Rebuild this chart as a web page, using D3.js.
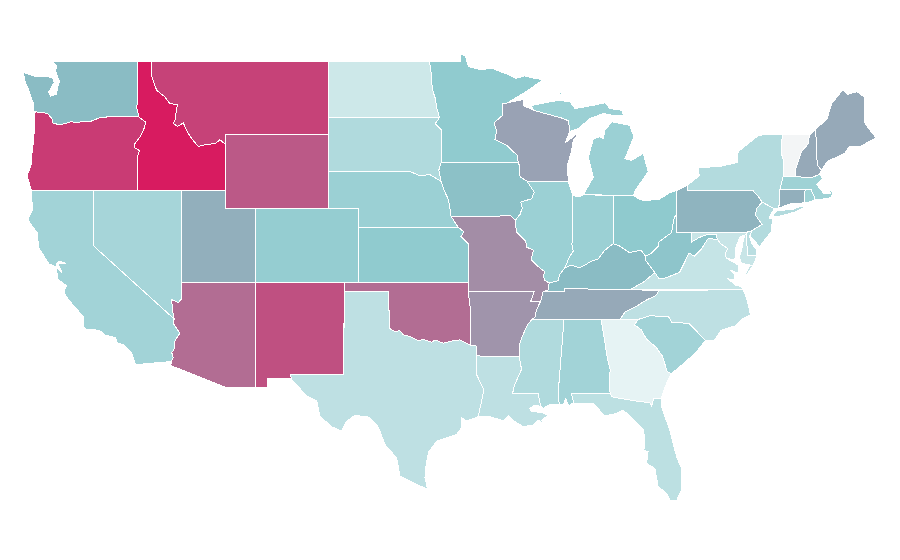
<!DOCTYPE html>
<html>
<head>
<meta charset="utf-8">
<script src="https://cdn.jsdelivr.net/npm/d3@7"></script>
<style>
  html, body { margin: 0; background: #fff; }
  .state { stroke: #fff; stroke-width: 1; shape-rendering: crispEdges; }
</style>
</head>
<body>
<svg id="mapa" width="900" height="560"></svg>
<script>
const states = ['ID','OR','MT','WY','NM','AZ','OK','MO','AR','WI','TN','ME','NH','UT','PA','CT','WA','IA','KY','WV','MN','KS','OH','CO','NE','IL','IN','MI','CA','NV','AL','SC','MA','RI','MS','SD','NY','NJ','TX','LA','FL','NC','VA','MD','DE','ND','GA','VT'];
const values = [100,91,89,82.5,85,77,77,68,66,62,60,60,60,57,54,57,50,47,50,44,40,40,41,38,35.5,35.5,35.5,35.5,32.7,31,32.7,32.7,34,34,27,27,25.8,25.8,21.3,21.3,22,21.3,18.4,17.2,23,15,5,0];

const color_stops = [0, 5, 40, 50, 60, 100];
const color_range = ['#f3f5f6', '#e6f3f4', '#90cbcf', '#8abcc4', '#96a9b8', '#d81b60'];

// shared borders, lon/lat
const columbia = [[-118.98,46],[-119.3,45.93],[-119.6,45.92],[-120.2,45.73],[-120.65,45.73],[-121.2,45.67],[-121.5,45.72],[-122,45.6],[-122.3,45.55],[-122.75,45.65],[-122.8,45.9],[-123.1,46.15],[-123.4,46.22],[-123.9,46.25]];
const snake = [[-116.92,46],[-116.88,45.94],[-116.45,45.7],[-116.57,45.34],[-116.84,44.89],[-117.18,44.53],[-117.2,44.31],[-116.88,44.16],[-117.02,43.8],[-117.03,42]];
const id_mt = [[-116.05,49],[-116.03,48.15],[-115.71,47.42],[-115.15,47.06],[-114.81,46.7],[-114.31,46.65],[-114.47,45.79],[-114.58,45.61],[-114.29,45.47],[-113.9,45.65],[-113.63,45.16],[-113.34,44.8],[-112.89,44.38],[-112.32,44.49],[-111.76,44.53],[-111.42,44.74],[-111.05,44.49]];
const colorado_nv = [[-114.04,36.1],[-114.24,35.92],[-114.69,36.07],[-114.65,35.6],[-114.53,35.03]];
const colorado_ca = [[-114.53,35.03],[-114.6,34.8],[-114.14,34.26],[-114.47,33.84],[-114.47,33.47],[-114.69,33.2],[-114.58,32.93],[-114.72,32.72]];
const red_river = [[-100,36.5],[-99.95,34.52],[-99.57,34.34],[-99.23,34.39],[-99,34.16],[-98.55,34.07],[-97.99,33.85],[-97.65,33.92],[-97.09,33.76],[-96.86,33.89],[-96.3,33.71],[-95.62,33.85],[-95.17,33.89],[-94.49,33.62]];
const red_river_dn = [[-94.49,33.62],[-94.04,33.55]];
const miss_il_mo = [[-89.13,36.98],[-89.4,37.1],[-89.52,37.3],[-89.45,37.6],[-90,37.95],[-90.35,38.25],[-90.2,38.75],[-90.65,38.92],[-90.72,39.25],[-91.35,39.75],[-91.42,40.38]];
const miss_il_ia = [[-91.42,40.38],[-91.1,40.7],[-90.95,41.05],[-91.06,41.36],[-90.32,41.54],[-90.14,41.9],[-90.64,42.5]];
const miss_wi = [[-90.64,42.5],[-91.1,42.72],[-91.15,43.35],[-91.22,43.5]];
const miss_wi_mn = [[-91.22,43.5],[-91.29,43.89],[-92.01,44.44],[-92.8,44.75],[-92.69,45.25],[-92.87,45.65],[-92.28,46.07],[-92.28,46.7]];
const miss_ky_mo = [[-89.13,36.98],[-89.2,36.6],[-89.55,36.5]];
const miss_tn_ar = [[-89.55,36.5],[-89.7,36],[-90,35.5],[-90.1,35.1],[-90.3,35]];
const miss_ms_ar = [[-90.3,35],[-90.6,34.7],[-91,34],[-91.15,33.6],[-91.17,33]];
const miss_ms_la = [[-91.17,33],[-91,32.3],[-91.5,31.4],[-91.6,31],[-89.87,30.98],[-89.72,30.36],[-89.54,30.18]];
const ohio_ky_il = [[-89.13,36.98],[-88.5,37.1],[-88.45,37.4],[-88.07,37.8]];
const ohio_ky_in = [[-88.07,37.8],[-87.6,37.95],[-87.1,37.8],[-86.6,38],[-86.3,38.15],[-85.8,38.28],[-85.4,38.73],[-84.8,39.1]];
const ohio_ky_oh = [[-84.8,39.1],[-84.4,39],[-83.7,38.63],[-82.9,38.75],[-82.6,38.42]];
const ohio_wv = [[-82.6,38.42],[-82.2,38.6],[-81.75,38.95],[-81.7,39.2],[-80.85,39.7],[-80.65,40.55],[-80.52,40.64]];
const wabash = [[-88.07,37.8],[-87.75,38.4],[-87.5,38.7],[-87.6,39.1],[-87.53,39.35],[-87.53,41.7]];
const wv_va = [[-77.72,39.32],[-78.35,39.4],[-78.87,38.77],[-79.3,38.42],[-79.65,38.6],[-80.3,37.55],[-81.25,37.25],[-81.68,37.2],[-81.97,37.54]];
const ky_wv = [[-81.97,37.54],[-82.6,38.2],[-82.6,38.42]];
const md_wv = [[-79.48,39.2],[-78.95,39.45],[-78.4,39.6],[-77.83,39.6],[-77.72,39.32]];
const potomac = [[-77.72,39.32],[-77.5,39.1],[-77.05,38.85],[-77.23,38.49],[-77.1,38.31]];
const tn_nc = [[-84.32,35],[-84,35.4],[-83.1,35.77],[-82.6,36.03],[-81.9,36.3],[-81.68,36.59]];
const ga_sc = [[-83.11,35],[-83.35,34.7],[-82.9,34.45],[-82.55,33.95],[-81.9,33.5],[-81.45,33],[-81.15,32.2],[-80.87,32.05]];
const nc_sc = [[-83.11,35],[-82.3,35.2],[-81.05,35.15],[-80.8,34.82],[-79.67,34.8],[-78.55,33.86]];
const ga_al = [[-85.61,35],[-85.18,32.87],[-85,32.3],[-85.05,31.5],[-85,31]];
const ga_fl = [[-85,31],[-84.86,30.8],[-83.2,30.57],[-82.31,30.49],[-82.2,30.3],[-82.04,30.72],[-81.52,30.73]];
const delaware = [[-74.7,41.36],[-75.1,41],[-75.15,40.65],[-74.72,40.15],[-75.42,39.8]];
const ny_pa = [[-79.76,42],[-75.35,42],[-75.05,41.75],[-74.7,41.36]];
const ny_ne = [[-73.35,45],[-73.4,44],[-73.25,43.55],[-73.28,42.75]];
const ny_ct = [[-73.5,42.05],[-73.5,41.3],[-73.65,41]];
const vt_nh = [[-71.5,45],[-71.6,44.5],[-72.05,44.1],[-72.45,43.1],[-72.46,42.73]];
const me_nh = [[-71.08,45.3],[-70.98,43.4],[-70.7,43.07]];
const up_wi = [[-87.72,45.2],[-87.83,45.76],[-88.17,45.89],[-90.2,46.34]];
const rev = a => a.slice().reverse();

const outlines = {
  WA: [[[-122.76,49],[-117.03,49],[-117.04,46.42],[-116.92,46],[-118.98,46],...columbia,[-124.05,46.28],[-124.05,46.7],[-124.18,46.95],[-124.4,47.5],[-124.65,47.95],[-124.73,48.38],[-123.9,48.17],[-123.15,48.15],[-122.75,48.12],[-122.65,47.85],[-122.95,47.4],[-123.05,47.35],[-122.9,47.1],[-122.5,47.2],[-122.4,47.6],[-122.3,47.9],[-122.45,48.25],[-122.55,48.45],[-122.5,48.75]]],
  OR: [[[-124.2,42],[-124.48,42.8],[-124.2,43.4],[-124.15,44],[-124.05,44.7],[-123.97,45.5],[-123.95,46.2],...rev(columbia),[-116.92,46],...snake]],
  ID: [[[-117.03,49],...id_mt,[-111.05,42],...rev(snake),[-117.04,46.42]]],
  MT: [[...id_mt.slice(0,1),[-104.05,49],[-104.05,45],[-111.05,45],...rev(id_mt).slice(0,-1)]],
  WY: [[[-111.05,45],[-104.05,45],[-104.05,41],[-111.05,41]]],
  UT: [[[-114.04,42],[-111.05,42],[-111.05,41],[-109.05,41],[-109.05,37],[-114.04,37]]],
  NV: [[[-120,42],[-114.04,42],[-114.04,37],...colorado_nv,[-120,39]]],
  CA: [[[-120,42],[-120,39],...colorado_ca,[-117.12,32.55],[-117.28,32.85],[-117.4,33.2],[-117.9,33.6],[-118.4,33.75],[-118.5,34.02],[-119.2,34.15],[-119.6,34.42],[-120.47,34.45],[-120.65,34.6],[-120.65,35.15],[-121.3,35.7],[-121.9,36.3],[-121.95,36.6],[-121.8,36.85],[-122.05,36.95],[-122.4,37.2],[-122.5,37.75],[-122.38,37.76],[-122.1,37.5],[-122.3,37.85],[-122.38,38.05],[-121.85,38.05],[-122.3,38.15],[-122.5,38],[-122.5,37.85],[-123,38],[-123.7,38.9],[-123.8,39.7],[-124.35,40.3],[-124.4,40.45],[-124.1,41],[-124.2,41.75],[-124.2,42]]],
  AZ: [[[-114.04,37],[-109.05,37],[-109.05,31.33],[-111.07,31.33],[-114.75,32.5],...rev(colorado_ca),...rev(colorado_nv)]],
  NM: [[[-109.05,37],[-103,37],[-103.05,32],[-106.62,32],[-106.6,31.78],[-108.2,31.78],[-108.2,31.33],[-109.05,31.33]]],
  CO: [[[-109.05,41],[-102.05,41],[-102.05,37],[-109.05,37]]],
  KS: [[[-102.05,40],[-95.3,40],[-94.9,39.75],[-95.1,39.5],[-94.61,39.11],[-94.62,37],[-102.05,37]]],
  NE: [[[-104.05,43],[-98.5,43],[-97.9,42.8],[-97.2,42.85],[-96.45,42.49],[-96.25,42],[-95.95,41.5],[-95.77,40.59],[-95.3,40],[-102.05,40],[-102.05,41],[-104.05,41]]],
  SD: [[[-104.05,45.94],[-96.56,45.94],[-96.85,45.6],[-96.45,45.3],[-96.45,43.5],[-96.6,43.1],[-96.45,42.49],[-97.2,42.85],[-97.9,42.8],[-98.5,43],[-104.05,43]]],
  ND: [[[-104.05,49],[-97.23,49],[-97.1,48.2],[-97.05,47.5],[-96.85,47],[-96.75,46.5],[-96.56,45.94],[-104.05,45.94]]],
  MN: [[[-97.23,49],[-95.15,49],[-95.15,49.38],[-94.8,49.3],[-94.6,48.7],[-93.8,48.55],[-92.95,48.6],[-92,48.3],[-91.4,48.07],[-90.8,48.2],[-90,48.05],[-89.5,48],[-90.8,47.3],[-92,46.72],...rev(miss_wi_mn),[-96.45,43.5],[-96.45,45.3],[-96.85,45.6],[-96.56,45.94],[-96.75,46.5],[-96.85,47],[-97.05,47.5],[-97.1,48.2]]],
  IA: [[[-96.45,43.5],[-91.22,43.5],...rev(miss_wi),...rev(miss_il_ia),[-91.73,40.61],[-95.77,40.59],[-95.95,41.5],[-96.25,42],[-96.45,42.49],[-96.6,43.1]]],
  MO: [[[-95.77,40.59],[-91.73,40.61],...rev(miss_il_mo),...miss_ky_mo,[-89.7,36],[-90.37,36],[-90.15,36.5],[-94.62,36.5],[-94.62,37],[-94.61,39.11],[-95.1,39.5],[-94.9,39.75],[-95.3,40]]],
  AR: [[[-94.62,36.5],[-90.15,36.5],[-90.37,36],...miss_tn_ar.slice(1),...miss_ms_ar,[-94.04,33.02],[-94.04,33.55],[-94.49,33.62],[-94.43,35.4]]],
  OK: [[[-103,37],[-94.62,37],[-94.62,36.5],[-94.43,35.4],...rev(red_river),[-103,36.5]]],
  TX: [[[-103,36.5],...red_river,...red_river_dn,[-94.04,32],[-93.55,31.2],[-93.75,30.4],[-93.94,29.73],[-94.72,29.49],[-95.06,29.67],[-95.06,29.13],[-95.39,28.77],[-96.07,28.59],[-96.75,28.4],[-97.3,27.8],[-97.45,27.2],[-97.54,26.41],[-97.36,25.8],[-98.33,26.14],[-99.23,26.5],[-99.46,27.5],[-100.25,28.22],[-100.7,29.17],[-101.37,29.71],[-102.28,29.8],[-102.84,29.49],[-103.18,28.95],[-103.86,29.18],[-104.65,29.76],[-104.87,30.58],[-105.55,30.85],[-106.6,31.78],[-106.62,32],[-103.05,32]]],
  LA: [[[-93.94,29.73],[-93.15,29.73],[-92.24,29.52],[-91.9,29.77],[-91.57,29.52],[-90.89,29.19],[-90.2,29.28],[-89.87,29.55],[-89.15,29.05],[-89.65,29.52],[-89.2,29.82],[-89.7,29.97],[-90.32,30],[-90.44,30.18],[-90.1,30.36],[-89.65,30.27],...rev(miss_ms_la),[-94.04,33.02],[-94.04,32],[-93.55,31.2],[-93.75,30.4]]],
  MS: [[...miss_ms_la,[-89.2,30.36],[-88.45,30.4],[-88.52,31],[-88.13,34.93],[-88.2,35],...miss_ms_ar]],
  AL: [[[-88.2,35],[-85.61,35],...ga_al.slice(1),[-87.62,30.97],[-87.46,30.45],[-87.62,30.42],[-87.82,30.31],[-88,30.73],[-88.18,30.37],[-88.45,30.4],[-88.52,31],[-88.13,34.93]]],
  FL: [[[-87.62,30.97],...ga_fl,[-81.52,30.27],[-80.96,29],[-80.5,27.56],[-80.17,26.93],[-80.17,25.76],[-80.5,25.18],[-80.96,25.2],[-81.18,25.58],[-81.75,25.94],[-81.97,26.93],[-82.54,27.2],[-82.43,27.84],[-82.83,27.93],[-82.65,28.02],[-82.72,29],[-83.44,29.59],[-84.12,30.09],[-84.57,29.91],[-85.36,29.77],[-86.15,30.45],[-87.46,30.45]]],
  GA: [[[-85.61,35],...ga_sc,[-81.1,31.7],[-81.35,31.2],...rev(ga_fl),...rev(ga_al).slice(1)]],
  SC: [[...nc_sc,[-79.2,33.2],[-79.9,32.7],...rev(ga_sc)]],
  NC: [[...tn_nc,[-75.98,36.6],[-75.7,36],[-75.5,35.25],[-76,35.05],[-76.55,34.65],[-77.5,34.4],[-77.95,33.85],...rev(nc_sc)]],
  TN: [[[-90.3,35],[-88.2,35],[-85.61,35],...tn_nc,[-83.68,36.6],[-86.5,36.65],[-88.07,36.68],[-88.07,36.5],...miss_tn_ar]],
  KY: [[[-89.55,36.5],...rev(miss_ky_mo),...ohio_ky_il.slice(1),...ohio_ky_in.slice(1),...ohio_ky_oh.slice(1),...rev(ky_wv),[-82.7,37.05],[-83.68,36.6],[-86.5,36.65],[-88.07,36.68],[-88.07,36.5]]],
  IL: [[[-90.64,42.5],...rev(miss_il_ia),...rev(miss_il_mo),...ohio_ky_il,...wabash.slice(1),[-87.83,42.48]]],
  IN: [[[-87.53,41.7],[-87,41.67],[-86.82,41.76],[-84.8,41.72],...rev(ohio_ky_in),...wabash.slice(1,-1)]],
  OH: [[[-84.8,41.72],[-83.43,41.72],[-83,41.5],[-82.7,41.45],[-81.7,41.5],[-81,41.85],[-80.52,41.98],...rev(ohio_wv),...rev(ohio_ky_oh)]],
  MI: [[...up_wi,[-90.32,46.6],[-88.51,46.88],[-88.51,47.15],[-87.83,47.43],[-88.4,47.28],[-88.4,46.88],[-87.72,46.79],[-87.38,46.43],[-86.14,46.61],[-85.35,46.74],[-85,46.43],[-84.22,46.34],[-84.11,46.07],[-84.9,46.07],[-85.46,46.16],[-86.37,45.89],[-87.16,45.34]],
       [[-86.82,41.76],[-86.14,42.7],[-86.48,43.8],[-86.14,44.8],[-85.7,44.9],[-85.46,44.8],[-85.35,45.25],[-84.9,45.72],[-83.66,45.52],[-83.39,44.89],[-84,43.71],[-83.55,43.62],[-82.76,44],[-82.42,43],[-83.3,42],[-83.43,41.72]]],
  WI: [[...miss_wi,...miss_wi_mn,[-90.88,46.92],[-90.88,46.6],...rev(up_wi),[-88.06,44.56],[-87.04,45.2],[-87.5,44.7],[-87.6,44.17],[-87.9,43.35],[-87.83,42.48],[-90.54,42.48]]],
  WV: [[[-80.52,40.64],[-80.52,39.72],[-79.48,39.72],...md_wv,...wv_va,...ky_wv,...ohio_wv]],
  VA: [[[-83.68,36.6],[-75.98,36.6],[-76.1,36.77],[-76.55,36.87],[-77,37.2],[-76.55,37.14],[-76.55,37.41],[-76.89,37.68],[-76.32,37.5],[-76.32,37.95],[-77.1,38.31],...rev(potomac).slice(1),...wv_va,[-82.7,37.05]],
       [[-75.98,37.23],[-75.53,37.95],[-75.31,37.95],[-75.76,37.41]]],
  MD: [[[-79.48,39.72],[-75.79,39.72],[-75.69,38.46],[-75.05,38.45],[-75.31,37.95],[-75.53,37.95],[-76.1,38.04],[-76.26,38.4],[-76.1,38.76],[-76,39.2],[-75.87,39.58],[-76.2,39.49],[-76.48,38.94],[-76.48,38.31],[-76.7,38.25],...rev(potomac),...rev(md_wv)]],
  DE: [[[-75.79,39.72],[-75.42,39.8],[-75.55,39.5],[-75.4,39.1],[-75.1,38.8],[-75.05,38.45],[-75.69,38.46]]],
  PA: [[[-80.52,41.98],[-79.76,42.27],...ny_pa,...delaware,[-75.79,39.72],[-80.52,39.72],[-80.52,40.64]]],
  NJ: [[...delaware,[-75.55,39.5],[-75.15,39.2],[-74.9,38.93],[-74.1,39.75],[-74,40.45],[-74.25,40.5],[-73.9,41]]],
  NY: [[[-79.76,42.27],[-78.96,42.8],[-79.06,43.25],[-77.7,43.27],[-76.4,43.5],[-76.33,44.1],[-75,44.95],[-74.7,45],...ny_ne,...ny_ct,[-73.9,41],...rev(ny_pa)],
       [[-74.02,40.6],[-73.7,40.88],[-72.6,40.98],[-72,41.15],[-71.87,41.07],[-72.5,40.82],[-73.6,40.58]]],
  VT: [[...ny_ne.slice(0,1),...vt_nh,...rev(ny_ne).slice(0,-1)]],
  NH: [[...vt_nh,[-71.3,42.7],[-70.82,42.87],...rev(me_nh)]],
  ME: [[...me_nh,[-70.25,43.6],[-69.8,43.75],[-69.1,44],[-68.8,44.4],[-68,44.4],[-67,44.85],[-67.45,45.3],[-67.8,45.7],[-67.8,47.07],[-68.3,47.35],[-68.9,47.2],[-69.23,47.46],[-70,46.7],[-70.3,45.9]]],
  MA: [[[-73.5,42.05],[-73.28,42.75],[-72.46,42.73],[-71.3,42.7],[-70.82,42.87],[-70.6,42.65],[-71,42.3],[-70.65,41.95],[-70.55,41.8],[-70.05,41.8],[-70.25,42.07],[-69.95,41.9],[-70,41.6],[-70.65,41.52],[-71.12,41.5],[-71.2,41.68],[-71.38,42.02],[-71.8,42.02]]],
  CT: [[[-73.5,42.05],[-71.8,42.02],[-71.85,41.32],[-72.9,41.25],[-73.65,41],[-73.5,41.3]]],
  RI: [[[-71.8,42.02],[-71.38,42.02],[-71.2,41.68],[-71.12,41.5],[-71.5,41.37],[-71.85,41.32]]]
};

// the map is a plain lon/lat grid, stretched vertically
const escalaX = d3.scaleLinear().domain([-120, -109.05]).range([93.3, 255]);
const escalaY = d3.scaleLinear().domain([42, 31]).range([190.3, 393.25]);
const escalaColor = d3.scaleLinear().domain(color_stops).range(color_range);

const proyeccion = d3.geoTransform({
  point: function(lon, lat) { this.stream.point(escalaX(lon), escalaY(lat)); }
});
const path = d3.geoPath(proyeccion);

const features = states.map((id, i) => ({
  type: 'Feature',
  id: id,
  value: values[i],
  geometry: { type: 'MultiPolygon', coordinates: outlines[id].map(r => [r.concat([r[0]])]) }
}));

d3.select('#mapa').append('g')
  .selectAll('path')
  .data(features)
  .join('path')
    .attr('class', 'state')
    .attr('d', path)
    .attr('fill', d => escalaColor(d.value));
</script>
</body>
</html>
